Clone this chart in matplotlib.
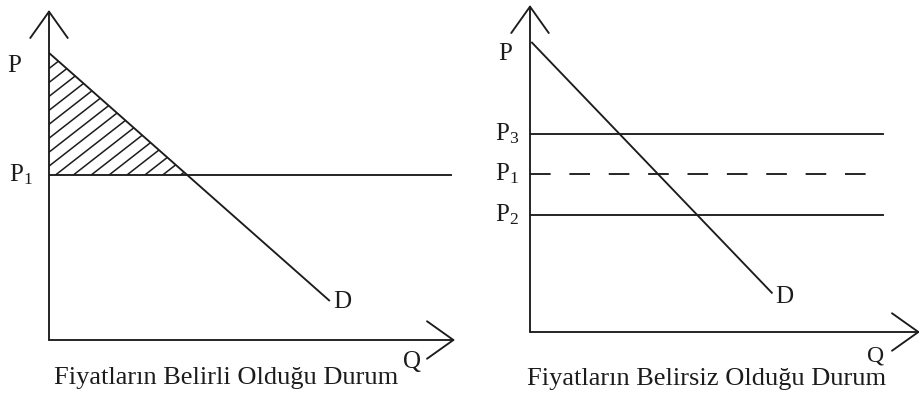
import numpy as np
import matplotlib
matplotlib.use('Agg')
import matplotlib.pyplot as plt
from matplotlib.patches import Polygon

# Data (price / quantity units, axes run 0..10)
# left panel: certain prices
demand_left_q = [0.0, 6.9]
demand_left_p = [8.7, 1.2]
p1_left = 5.0
p1_left_end = 9.9

# right panel: uncertain prices
demand_right_q = [0.05, 6.2]
demand_right_p = [8.85, 1.2]
price_levels = [6.05, 4.83, 3.58]          # P3, P1, P2
price_names = ['P_3', 'P_1', 'P_2']
price_styles = ['-', (0, (11, 10)), '-']
price_ends = [9.05, 8.7, 9.05]

titles = ['Fiyatların Belirli Olduğu Durum', 'Fiyatların Belirsiz Olduğu Durum']

plt.rcParams['font.family'] = ['Liberation Serif', 'DejaVu Serif']
plt.rcParams['mathtext.fontset'] = 'custom'
plt.rcParams['mathtext.rm'] = 'Liberation Serif'
plt.rcParams['mathtext.it'] = 'Liberation Serif'

ink = '#1c1c1c'
lw = 1.35
fs = 18

fig = plt.figure(figsize=(9.2, 3.96), dpi=100)
ax1 = fig.add_axes([49 / 920, 56 / 396, 406 / 920, 330 / 396])
ax2 = fig.add_axes([530 / 920, 64 / 396, 390 / 920, 327 / 396])

for ax in (ax1, ax2):
    ax.set_xlim(0, 10)
    ax.set_ylim(0, 10)
    ax.axis('off')
    arrow = dict(arrowstyle='->, head_length=1.9, head_width=1.35', color=ink,
                 lw=lw, shrinkA=0, shrinkB=0)
    ax.annotate('', xy=(0, 10), xytext=(0, 0), arrowprops=arrow, annotation_clip=False)
    ax.annotate('', xy=(10, 0), xytext=(0, 0), arrowprops=arrow, annotation_clip=False)

# Left panel
ax1.plot(demand_left_q, demand_left_p, color=ink, lw=lw)
ax1.plot([0, p1_left_end], [p1_left, p1_left], color=ink, lw=lw)

# consumer surplus triangle with hand-style hatching
slope = (demand_left_p[1] - demand_left_p[0]) / (demand_left_q[1] - demand_left_q[0])
q_cross = demand_left_q[0] + (p1_left - demand_left_p[0]) / slope
tri = Polygon([[0, p1_left], [0, demand_left_p[0]], [q_cross, p1_left]],
              closed=True, facecolor='none', edgecolor='none')
ax1.add_patch(tri)
hatch_slope = 0.96
for q0 in np.arange(-6, 6, 0.44):
    qq = np.array([q0, q0 + 8])
    ln, = ax1.plot(qq, p1_left + hatch_slope * (qq - q0), color=ink, lw=1.1)
    ln.set_clip_path(tri)

ax1.text(-0.85, 8.3, 'P', fontsize=fs, ha='center', va='center', color=ink)
ax1.text(-0.4, p1_left, r'$\mathrm{P}_1$', fontsize=fs, ha='right', va='center', color=ink)
ax1.text(7.0, 1.15, 'D', fontsize=fs, ha='left', va='center', color=ink)
ax1.text(8.95, -0.68, 'Q', fontsize=fs, ha='center', va='center', color=ink)
ax1.text(4.36, -1.15, titles[0], fontsize=19, ha='center', va='center', color=ink)

# Right panel
ax2.plot(demand_right_q, demand_right_p, color=ink, lw=lw)
for lvl, name, st, end in zip(price_levels, price_names, price_styles, price_ends):
    ax2.plot([0, end], [lvl, lvl], color=ink, lw=lw, linestyle=st)
    ax2.text(-0.28, lvl, r'$\mathrm{%s}$' % name, fontsize=fs, ha='right', va='center', color=ink)

ax2.text(-0.64, 8.5, 'P', fontsize=fs, ha='center', va='center', color=ink)
ax2.text(6.3, 1.07, 'D', fontsize=fs, ha='left', va='center', color=ink)
ax2.text(8.85, -0.72, 'Q', fontsize=17, ha='center', va='center', color=ink)
ax2.text(4.54, -1.43, titles[1], fontsize=19, ha='center', va='center', color=ink)

fig.savefig('out.png', dpi=100, facecolor='white')
